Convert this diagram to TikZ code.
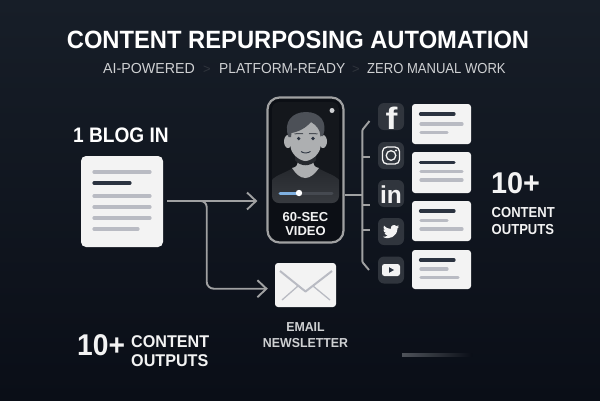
\documentclass[tikz,border=0pt]{standalone}
\usepackage{graphicx}
\usepackage{fontspec}
\setmainfont{Liberation Sans}
\usetikzlibrary{arrows.meta}
\definecolor{bgtop}{HTML}{171E28}
\definecolor{bgbot}{HTML}{0A0E17}
\definecolor{paper}{HTML}{F3F3F3}
\definecolor{inkline}{HTML}{2B3340}
\definecolor{greyline}{HTML}{B9BBC3}
\definecolor{wire}{HTML}{A0A1A2}
\definecolor{tile}{HTML}{30353D}
\definecolor{soft}{HTML}{CFD1D3}
\definecolor{screentop}{HTML}{14171C}
\definecolor{screenbot}{HTML}{383B40}
\definecolor{hair}{HTML}{4C5057}
\definecolor{skin}{HTML}{ADAFB1}
\definecolor{shirt}{HTML}{26292E}
\definecolor{seek}{HTML}{7FB0E0}
\definecolor{casing}{HTML}{0C0F15}
\tikzset{
  sheet/.style={fill=paper,rounded corners=#1,inner sep=0pt},
  sheet/.default=3pt,
  dark/.style={draw=inkline,line width=3.2pt,line cap=round},
  grey/.style={draw=greyline,line width=3.2pt,line cap=round},
  wireline/.style={draw=wire,line width=1.9pt},
  arrowline/.style={wireline,-{Straight Barb[length=9pt,width=17pt,line width=1.9pt]}},
  icontile/.style={fill=tile,rounded corners=6pt,minimum width=26pt,minimum height=27pt,inner sep=0pt},
  label/.style={text=#1,inner sep=0pt,align=center,font=\bfseries},
  label/.default=white,
}
\newcommand{\fsz}[1]{\fontsize{#1}{#1}\selectfont}
\newcommand{\sx}[2]{\scalebox{#1}[1]{#2}}
\begin{document}
\begin{tikzpicture}[x=1pt,y=-1pt]
\useasboundingbox (0,0) rectangle (600,400);
\shade[top color=bgtop,bottom color=bgbot] (0,0) rectangle (600,400);

% titles
\node[label,anchor=base,text=white,font=\bfseries\fsz{25}] (title) at (298,48) {\sx{.95}{CONTENT REPURPOSING AUTOMATION}};
\node[label=soft,anchor=base west,font=\fsz{14.5}] (s1) at (103,73) {\sx{.98}{AI-POWERED}};
\node[label=soft,anchor=base west,font=\fsz{14.5}] (s2) at (219,73) {\sx{.95}{PLATFORM-READY}};
\node[label=soft,anchor=base west,font=\fsz{14.5}] (s3) at (367,73) {\sx{.9}{ZERO MANUAL WORK}};
\node[text=tile,anchor=base,inner sep=0pt,font=\fsz{13}] (g1) at (207,73) {>};
\node[text=tile,anchor=base,inner sep=0pt,font=\fsz{13}] (g2) at (356,73) {>};

% blog
\node[label,anchor=base west,font=\bfseries\fsz{21}] (blogin) at (73,142) {\sx{.91}{1 BLOG IN}};
\node[sheet=5pt,minimum width=82pt,minimum height=91pt] (doc) at (122,201.5) {};
\draw[grey] (94,172) -- (150,172);
\draw[dark] (94,183) -- (130,183);
\draw[grey] (94,196) -- (150,196);
\draw[grey] (94,207) -- (150,207);
\draw[grey] (94,218) -- (150,218);
\draw[grey] (94,229) -- (138,229);

% phone
\node[draw=wire,line width=2.2pt,fill=casing,rounded corners=12pt,minimum width=76pt,minimum height=145pt,inner sep=0pt] (phone) at (305.5,170) {};
\begin{scope}
  \clip[rounded corners=7pt] (272,102) rectangle (339,203);
  \fill[screentop] (272,102) rectangle (339,203);
  % body
  \shade[top color=shirt,bottom color=screenbot] (272,205) -- (272,180) .. controls (276,175) and (285,173) .. (293,168) -- (318,168) .. controls (326,173) and (335,175) .. (339,180) -- (339,205) -- cycle;
  % neck and collar
  \fill[skin] (292,168) .. controls (297,167) and (298,165) .. (298,158) -- (313,158) .. controls (313,165) and (314,167) .. (319,168) .. controls (315,174) and (310,178) .. (305.5,178) .. controls (300,178) and (296,174) .. (292,168) -- cycle;
  \fill[shirt] (295,155) .. controls (300,161) and (311,161) .. (316,155) -- (316,160) .. controls (311,167) and (300,167) .. (295,160) -- cycle;
  % ears
  \fill[skin] (288,141.5) ellipse [x radius=4pt,y radius=6.5pt];
  \fill[skin] (323,141.5) ellipse [x radius=4pt,y radius=6.5pt];
  % face
  \fill[skin] (290.5,122) -- (320.5,122) -- (320.5,146) .. controls (320.5,154) and (311,161) .. (305.5,161) .. controls (300,161) and (290.5,154) .. (290.5,146) -- cycle;
  % hair
  \fill[hair] (288.5,137) .. controls (283,122) and (292,112) .. (306,112) .. controls (320,112) and (328,122) .. (323,136) -- (320.5,136) .. controls (320,129) and (316,125) .. (311,122) .. controls (306,128) and (298,132) .. (291.5,133) -- (291,137) -- cycle;
  % features
  \fill[inkline] (298.7,138.5) circle (1.8pt);
  \fill[inkline] (313,138.5) circle (1.8pt);
  \draw[hair,line width=1pt] (294.5,133.8) -- (303,133.5);
  \draw[hair,line width=1pt] (309,133.5) -- (317.5,133.8);
  \draw[inkline,line width=.9pt] (301,151.5) .. controls (304,153.5) and (307,153.5) .. (310.5,151.5);
\end{scope}
\draw[draw=tile!90!white,line width=3pt,line cap=round] (280,193) -- (332,193);
\draw[draw=seek,line width=3pt,line cap=round] (280,193) -- (299,193);
\fill[white] (299,193) circle (3.2pt);
\fill[soft] (332,110.5) circle (2.5pt);
\node[label=paper,anchor=base,font=\bfseries\fsz{13}] (sixty) at (305.5,221) {60-SEC};
\node[label=paper,anchor=base,font=\bfseries\fsz{13}] (video) at (305.5,235.5) {VIDEO};

% email
\node[sheet=3pt,minimum width=61pt,minimum height=44pt] (email) at (305.5,285) {};
\draw[draw=greyline,line width=2pt,line join=round] (280,271) -- (305.5,291.5) -- (332,271);
\draw[draw=greyline,line width=1.3pt] (282,300) -- (298,286);
\draw[draw=greyline,line width=1.3pt] (330,300) -- (313,286);
\node[label=soft,anchor=base,font=\bfseries\fsz{13}] (emailt) at (305.5,331) {\sx{.95}{EMAIL}};
\node[label=soft,anchor=base,font=\bfseries\fsz{13}] (newsl) at (305.5,347) {\sx{.95}{NEWSLETTER}};

% connectors
\coordinate (branch) at (200,201);
\coordinate (corner) at (206.7,288.7);
\coordinate (emailin) at (email.west |- corner);
\draw[arrowline,shorten <=4pt,shorten >=9pt] (doc.east |- branch) -- (phone.west |- branch);
\draw[wireline,rounded corners=6pt] (branch) -| (206.7,250);
\draw[arrowline,rounded corners=7pt,shorten >=7pt] (206.7,250) |- (emailin);

% bus
\coordinate (bustop) at (369.5,121);
\coordinate (busbot) at (369,270);
\draw[wireline,line join=round,rounded corners=1pt] (bustop) -- (362.3,130) -- (362.3,262) -- (busbot);
\draw[wireline] (phone.east |- 0,195) -- (362.3,195);
\draw[wireline] (362.3,157) -- (370,157);
\draw[wireline] (362.3,205) -- (370,205);
\draw[wireline] (362.3,230) -- (370,230);

% icons
\node[icontile] (fb) at (391,116.5) {};
\node[icontile] (ig) at (391,155.5) {};
\node[icontile] (li) at (391,193.5) {};
\node[icontile] (tw) at (391,231.5) {};
\node[icontile] (yt) at (391,270) {};
\node[anchor=base,inner sep=0pt,text=paper,font=\bfseries\fsz{31}] (ftxt) at (391.5,129.5) {\sx{1.15}{f}};
\node[anchor=base,inner sep=0pt,text=paper,font=\bfseries\fsz{24.5}] (intxt) at (391,203) {in};
\draw[paper,line width=1.3pt,rounded corners=4.5pt] (382.5,147) rectangle (399.5,164);
\draw[paper,line width=1.3pt] (391,155.5) circle (4.8pt);
\fill[paper] (396,150.5) circle (1.1pt);
\begin{scope}[shift={(382.8,223.5)},x=.68pt,y=-.68pt]
\fill[paper] (23.95,4.57) -- (21.13,5.35) -- (23.29,2.62) -- (20.16,3.8) .. controls (17,.6) and (11,2.6) .. (11.78,8.1) .. controls (7.7,7.9) and (4.07,6.1) .. (1.64,3.16) .. controls (.4,5.4) and (1,8.3) .. (3.16,9.73) -- (.93,9.12) .. controls (1,11.5) and (2.6,13.5) .. (4.88,14) -- (2.66,14.1) .. controls (3.3,16) and (5.2,17.4) .. (7.27,17.5) .. controls (5.4,19) and (2.9,19.8) .. (.0,19.54) .. controls (9,25.2) and (21.55,19) .. (21.55,7.14) -- cycle;
\end{scope}
\fill[paper,rounded corners=2.5pt] (382,264) rectangle (400,276);
\fill[inkline] (389,267.2) -- (394,270) -- (389,272.8) -- cycle;

% cards
\node[sheet=3pt,minimum width=59pt,minimum height=40pt] (c1) at (441.5,124) {};
\node[sheet=3pt,minimum width=59pt,minimum height=41pt] (c2) at (441.5,172.5) {};
\node[sheet=3pt,minimum width=59pt,minimum height=40pt] (c3) at (441.5,221) {};
\node[sheet=3pt,minimum width=59pt,minimum height=39pt] (c4) at (441.5,269.5) {};
\draw[dark] (420.5,114) -- (454,114);
\draw[grey] (421,124) -- (462,124);
\draw[grey] (421,132.5) -- (447,132.5);
\draw[dark] (420.5,162.5) -- (454,162.5);
\draw[grey] (421,171.5) -- (462,171.5);
\draw[grey] (421,180) -- (462,180);
\draw[dark] (420.5,211) -- (454,211);
\draw[grey] (421,220.5) -- (447,220.5);
\draw[grey] (421,229) -- (462,229);
\draw[dark] (420.5,260) -- (454,260);
\draw[grey] (421,269) -- (447,269);
\draw[grey] (421,277.5) -- (458,277.5);

% right stat
\node[label,anchor=base west,text=paper,font=\bfseries\fsz{30}] (ten1) at (491,193) {\sx{.96}{10+}};
\node[label=paper,anchor=base west,font=\bfseries\fsz{14.5}] (co1) at (491.5,217) {\sx{.9}{CONTENT}};
\node[label=paper,anchor=base west,font=\bfseries\fsz{14.5}] (ou1) at (491.5,234) {\sx{.9}{OUTPUTS}};

% bottom stat
\node[label,anchor=base west,text=paper,font=\bfseries\fsz{30}] (ten2) at (77,355) {\sx{.94}{10+}};
\node[label=paper,anchor=base west,font=\bfseries\fsz{17}] (co2) at (131,347) {\sx{.95}{CONTENT}};
\node[label=paper,anchor=base west,font=\bfseries\fsz{17}] (ou2) at (131,366) {\sx{.95}{OUTPUTS}};

% faded bar
\shade[left color=tile!85!white,right color=bgbot] (402,353.3) rectangle (472,356);
\end{tikzpicture}
\end{document}
